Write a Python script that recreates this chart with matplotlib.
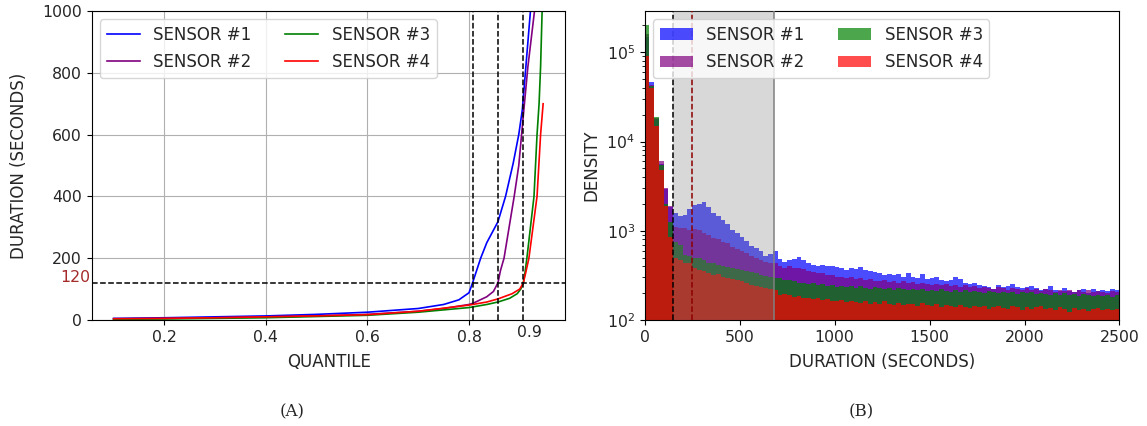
import numpy as np
import matplotlib
matplotlib.use("Agg")
import matplotlib.pyplot as plt


# ----------------------------
# Data: (A) quantile curves
# ----------------------------

sensor_names = ["SENSOR #1", "SENSOR #2", "SENSOR #3", "SENSOR #4"]
sensor_colors = ["blue", "purple", "green", "red"]

q1 = [0.10, 0.20, 0.30, 0.40, 0.50, 0.60, 0.70, 0.75, 0.78, 0.80, 0.807,
      0.815, 0.823, 0.835, 0.857, 0.872, 0.887, 0.898, 0.905, 0.912, 0.921, 0.925]
d1 = [5, 7, 10, 13, 18, 25, 37, 50, 65, 88, 120,
      160, 200, 250, 318, 400, 507, 600, 680, 820, 1000, 1100]

q2 = [0.10, 0.20, 0.30, 0.40, 0.50, 0.60, 0.70, 0.75, 0.80, 0.808, 0.835,
      0.848, 0.857, 0.862, 0.869, 0.879, 0.889, 0.898, 0.908, 0.916, 0.929, 0.933]
d2 = [3, 5, 7, 10, 13, 18, 28, 37, 50, 54, 75,
      92, 120, 160, 200, 300, 400, 500, 680, 820, 1000, 1080]

q3 = [0.10, 0.20, 0.30, 0.40, 0.50, 0.60, 0.70, 0.80, 0.835, 0.857, 0.88,
      0.895, 0.902, 0.907, 0.910, 0.914, 0.921, 0.928, 0.934, 0.938, 0.941, 0.944, 0.947]
d3 = [2, 3, 5, 7, 11, 15, 25, 40, 50, 58, 70,
      85, 100, 120, 150, 200, 300, 400, 600, 700, 820, 1000, 1100]

q4 = [0.10, 0.20, 0.30, 0.40, 0.50, 0.60, 0.70, 0.80, 0.835, 0.857, 0.885,
      0.900, 0.907, 0.912, 0.918, 0.926, 0.934, 0.941, 0.946]
d4 = [4, 5, 7, 10, 13, 17, 28, 48, 58, 68, 85,
      100, 120, 155, 200, 300, 400, 600, 700]

quantile_marks = [0.807, 0.857, 0.907]
threshold = 120

# ----------------------------
# Data: (B) histograms, 25 s bins from 0 to 2500
# ----------------------------

bin_width = 25
n_bins = 100

h1 = [150000, 46000, 18000, 5600, 2900, 1850, 1570, 1450, 1520, 1750,
      1950, 2000, 2100, 1850, 1600, 1450, 1320, 1190, 1030, 940,
      860, 760, 670, 640, 590, 520, 545, 600, 480, 450,
      470, 480, 505, 470, 430, 410, 400, 415, 405, 400,
      395, 380, 365, 385, 370, 390, 360, 350, 345, 335,
      320, 330, 318, 330, 306, 335, 305, 295, 325, 285,
      295, 305, 280, 270, 282, 300, 290, 258, 255, 262,
      248, 240, 235, 225, 245, 232, 238, 250, 236, 228,
      232, 240, 228, 215, 222, 238, 218, 210, 226, 212,
      208, 215, 222, 200, 225, 212, 218, 210, 220, 214]

h2 = [160000, 43000, 18500, 6100, 3000, 1900, 1110, 1060, 1060, 1020,
      1040, 1010, 940, 900, 830, 800, 750, 720, 665, 620,
      585, 560, 515, 495, 470, 450, 435, 430, 398, 385,
      400, 378, 382, 368, 350, 342, 335, 340, 322, 318,
      306, 300, 294, 305, 288, 292, 282, 286, 276, 270,
      280, 268, 272, 262, 275, 258, 266, 252, 262, 250,
      248, 256, 244, 250, 240, 248, 236, 245, 232, 240,
      228, 236, 230, 222, 232, 226, 218, 228, 222, 215,
      226, 218, 222, 212, 220, 214, 208, 218, 210, 216,
      205, 214, 208, 218, 204, 210, 206, 200, 210, 206]

h3 = [200000, 42000, 19000, 5400, 2000, 1260, 755, 690, 540, 515,
      500, 490, 470, 435, 430, 412, 405, 395, 380, 372,
      362, 350, 348, 335, 322, 310, 305, 295, 292, 278,
      283, 270, 262, 258, 255, 260, 248, 252, 240, 246,
      236, 242, 232, 238, 228, 240, 230, 224, 234, 226,
      222, 230, 218, 226, 220, 214, 224, 216, 222, 212,
      218, 210, 220, 212, 206, 216, 208, 214, 204, 212,
      206, 200, 210, 204, 198, 208, 200, 206, 196, 204,
      198, 206, 194, 200, 196, 190, 200, 192, 198, 188,
      196, 186, 194, 190, 184, 192, 186, 190, 182, 188]

h4 = [92000, 40000, 15000, 4800, 1900, 860, 490, 470, 435, 430,
      385, 365, 350, 335, 322, 325, 306, 298, 290, 282,
      272, 262, 248, 240, 236, 226, 222, 215, 192, 196,
      188, 182, 185, 178, 175, 170, 176, 168, 172, 165,
      162, 168, 158, 164, 160, 155, 162, 152, 158, 150,
      165, 150, 148, 156, 146, 152, 150, 144, 154, 146,
      142, 150, 140, 147, 143, 138, 148, 140, 136, 144,
      138, 142, 134, 140, 145, 136, 132, 142, 138, 130,
      140, 134, 138, 142, 132, 136, 128, 138, 134, 124,
      136, 130, 134, 126, 132, 136, 128, 134, 130, 132]

span_start = 150
span_end = 680
median_mark = 248


def main():

    plt.rcParams["font.family"] = ["DejaVu Sans"]
    plt.rcParams["font.size"] = 11.3
    plt.rcParams["axes.labelsize"] = 12
    plt.rcParams["text.color"] = "#262626"
    plt.rcParams["axes.labelcolor"] = "#262626"
    plt.rcParams["xtick.labelcolor"] = "#262626"
    plt.rcParams["ytick.labelcolor"] = "#262626"

    fig = plt.figure(figsize=(11.47, 4.26), dpi=100)

    # ------------------------
    # (A)
    # ------------------------

    ax1 = fig.add_axes([0.080, 0.249, 0.413, 0.725])

    curves = [(q1, d1), (q2, d2), (q3, d3), (q4, d4)]
    for (q, d), name, col in zip(curves, sensor_names, sensor_colors):
        ax1.plot(q, d, color=col, linewidth=1.2, label=name)

    for qm in quantile_marks:
        ax1.axvline(qm, color="black", linestyle="--", linewidth=1.1)
    ax1.axhline(threshold, color="black", linestyle="--", linewidth=1.1)

    ax1.text(-0.003, 138, str(threshold), color="brown", fontsize=11.3,
             ha="right", va="center",
             transform=ax1.get_yaxis_transform())

    ax1.set_xlim(0.057, 0.99)
    ax1.set_ylim(0, 1000)
    ax1.set_xticks([0.2, 0.4, 0.6, 0.8])
    ax1.set_xticks([0.92], labels=["0.9"], minor=True)
    ax1.tick_params(axis="x", which="minor", length=0)
    ax1.set_yticks([0, 200, 400, 600, 800, 1000])
    ax1.grid(True, color="#b0b0b0", linewidth=0.8)
    ax1.set_axisbelow(True)

    ax1.set_xlabel("QUANTILE", labelpad=6)
    ax1.set_ylabel("DURATION (SECONDS)", labelpad=10)
    ax1.legend(loc="upper left", ncol=2, fontsize=12,
               columnspacing=2.0, handlelength=2.0, labelspacing=0.55)

    # ------------------------
    # (B)
    # ------------------------

    ax2 = fig.add_axes([0.562, 0.249, 0.414, 0.725])

    edges = np.arange(n_bins + 1) * bin_width
    centers = edges[:-1] + bin_width / 2

    for h, name, col in zip([h1, h2, h3, h4], sensor_names, sensor_colors):
        ax2.hist(centers, bins=edges, weights=h, color=col, alpha=0.7,
                 label=name)

    ax2.axvspan(span_start, span_end, color="gray", alpha=0.3,
                linewidth=0, zorder=3)
    ax2.axvline(span_start, color="black", linestyle="--", linewidth=1.1,
                zorder=4)
    ax2.axvline(median_mark, color="darkred", linestyle="--", linewidth=1.1,
                zorder=4)
    ax2.axvline(span_end, color="gray", linewidth=1.1, zorder=4)

    ax2.set_yscale("log")
    ax2.set_xlim(0, 2500)
    ax2.set_ylim(100, 2.9e5)

    ax2.set_xlabel("DURATION (SECONDS)", labelpad=6)
    ax2.set_ylabel("DENSITY")
    ax2.legend(loc="upper left", ncol=2, fontsize=12,
               columnspacing=2.0, handlelength=2.0, labelspacing=0.55)

    # ------------------------
    # Captions
    # ------------------------

    fig.text(0.255, 0.033, "(A)", family="DejaVu Serif", fontsize=12,
             ha="center", va="center")
    fig.text(0.751, 0.033, "(B)", family="DejaVu Serif", fontsize=12,
             ha="center", va="center")

    fig.savefig("out.png", dpi=100)


if __name__ == "__main__":
    main()
